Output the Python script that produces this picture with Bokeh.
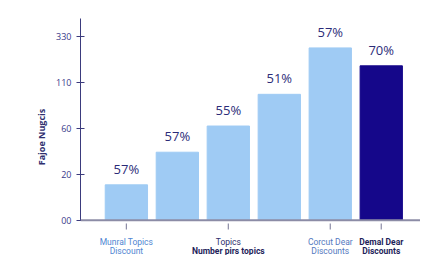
from bokeh.plotting import figure
from bokeh.models import ColumnDataSource, LabelSet, FixedTicker, Range1d, Span
from bokeh.core.properties import value
from bokeh.embed import file_html
from bokeh.resources import INLINE

# data
categories = ["Munral Topics Discount", "B", "Topics Number pirs topics", "D",
              "Corcut Dear Discounts", "Demal Dear Discounts"]
bar_heights = [0.77, 1.48, 2.05, 2.74, 3.75, 3.36]   # in axis-tick units
bar_labels = ["57%", "57%", "55%", "51%", "57%", "70%"]
bar_colors = ["#9fcbf4", "#9fcbf4", "#9fcbf4", "#9fcbf4", "#9fcbf4", "#15078a"]
y_tick_pos = [0, 1, 2, 3, 4]
y_tick_labels = ["00", "20", "60", "110", "330"]
x_label_idx = [0, 2, 4, 5]
x_label_line1 = ["Munral Topics", "Topics", "Corcut Dear", "Demal Dear"]
x_label_line2 = ["Discount", "Number pirs topics", "Discounts", "Discounts"]
line1_colors = ["#4f86d2", "#2e2e6e", "#5479c0", "#1e1e5a"]
line2_colors = ["#4f86d2", "#1e1e5a", "#5479c0", "#1e1e5a"]
line1_bold = ["normal", "normal", "normal", "bold"]
line2_bold = ["normal", "bold", "normal", "bold"]

xs = list(range(len(categories)))
src = ColumnDataSource(dict(x=xs, top=bar_heights, lab=bar_labels, color=bar_colors))

p = figure(width=420, height=255, output_backend="svg", toolbar_location=None,
           x_range=Range1d(-0.9, 5.77), y_range=Range1d(-0.768, 4.39),
           min_border_left=80, min_border_right=0, min_border_top=18, min_border_bottom=0)
p.outline_line_color = None
p.grid.visible = False
p.background_fill_color = "white"
p.xaxis.visible = False

p.vbar(x="x", top="top", width=0.83, bottom=0, color="color", source=src)

# baseline
p.add_layout(Span(location=0, dimension="width", line_color="#8c8ca6", line_width=2))

p.add_layout(LabelSet(x="x", y="top", text="lab", source=src, text_align="center",
                      text_baseline="bottom", y_offset=7, text_font_size="13px",
                      text_color="#2b2b78", text_font=value("Open Sans")))

# y axis
ya = p.yaxis[0]
ya.bounds = (0, 4.39)
ya.ticker = FixedTicker(ticks=y_tick_pos)
ya.major_label_overrides = {t: l for t, l in zip(y_tick_pos, y_tick_labels)}
ya.axis_line_color = "#3b3b7d"
ya.major_tick_line_color = "#3b3b7d"
ya.major_tick_in = 4
ya.major_tick_out = 4
ya.minor_tick_line_color = None
ya.major_label_text_color = "#3a3a8a"
ya.major_label_text_font_size = "9px"
ya.major_label_text_font = "Open Sans"
ya.axis_label = "Fajoe Nugcis"
ya.axis_label_text_font_style = "bold"
ya.axis_label_text_font_size = "9px"
ya.axis_label_text_color = "#2e2e6e"
ya.axis_label_text_font = "Open Sans"
ya.axis_label_standoff = 5

# x tick marks and two-line category labels
lab_src = ColumnDataSource(dict(
    x=x_label_idx, l1=x_label_line1, l2=x_label_line2,
    c1=line1_colors, c2=line2_colors, s1=line1_bold, s2=line2_bold))
p.segment(x0="x", x1="x", y0=-0.07, y1=-0.2, line_color="#8c8ca6", line_width=1.2, source=lab_src)
p.text(x="x", y=-0.464, text="l1", text_color="c1", text_font_style="s1", source=lab_src,
       text_align="center", text_baseline="middle", text_font_size="8.5px",
       text_font=value("Roboto"))
p.text(x="x", y=-0.67, text="l2", text_color="c2", text_font_style="s2", source=lab_src,
       text_align="center", text_baseline="middle", text_font_size="8.5px",
       text_font=value("Roboto"))

open("out.html", "w").write(file_html(p, INLINE))
